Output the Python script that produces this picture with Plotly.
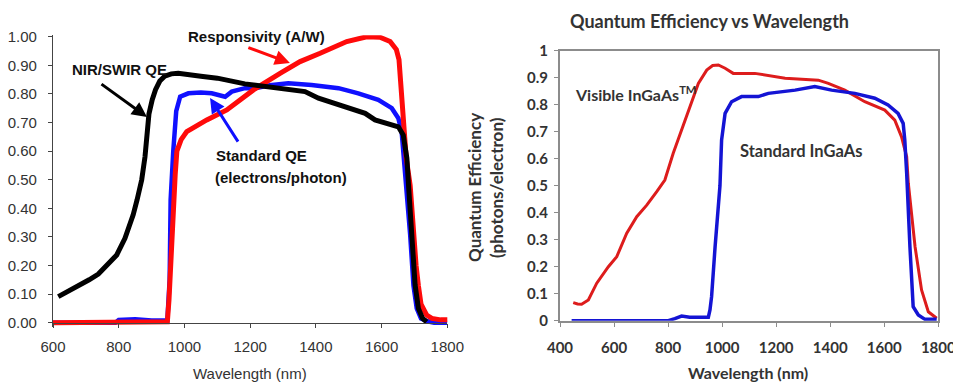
import plotly.graph_objects as go

# ---------------- Left panel data ----------------
nir_x = [616, 640, 677, 710, 738, 763, 794, 819, 844, 856, 870, 880, 886, 892, 902, 912, 925, 940, 960, 981,
         1050, 1100, 1184, 1215, 1286, 1367, 1408, 1450, 1489, 1550, 1580, 1611, 1651, 1666, 1677, 1682, 1692,
         1702, 1712, 1725, 1737]
nir_y = [0.091, 0.105, 0.13, 0.15, 0.17, 0.2, 0.237, 0.295, 0.377, 0.43, 0.5, 0.58, 0.66, 0.73, 0.78, 0.815,
         0.845, 0.862, 0.87, 0.872, 0.862, 0.855, 0.835, 0.831, 0.82, 0.808, 0.785, 0.77, 0.755, 0.732, 0.709,
         0.697, 0.685, 0.656, 0.575, 0.48, 0.307, 0.132, 0.05, 0.015, 0.003]

std_x = [600, 790, 800, 850, 900, 948, 955, 958, 966, 975, 987, 1012, 1050, 1083, 1124, 1144, 1184, 1215,
         1260, 1316, 1387, 1469, 1529, 1590, 1631, 1651, 1661, 1668, 1676, 1687, 1697, 1707, 1720, 1740,
         1760, 1800]
std_y = [0.0, 0.0, 0.01, 0.012, 0.008, 0.008, 0.15, 0.43, 0.6, 0.74, 0.79, 0.802, 0.805, 0.802, 0.79, 0.808,
         0.82, 0.82, 0.83, 0.837, 0.831, 0.82, 0.802, 0.779, 0.75, 0.715, 0.668, 0.58, 0.48, 0.307, 0.13,
         0.05, 0.015, 0.005, 0.0, 0.0]

resp_x = [600, 800, 850, 900, 948, 953, 958, 963, 968, 972, 977, 990, 1007, 1068, 1129, 1210, 1291, 1352,
          1413, 1494, 1555, 1595, 1626, 1645, 1653, 1661, 1669, 1675, 1687, 1697, 1705, 1712, 1720, 1737,
          1753, 1780, 1803]
resp_y = [0.0, 0.0, 0.004, 0.003, 0.003, 0.08, 0.22, 0.35, 0.45, 0.52, 0.6, 0.64, 0.668, 0.709, 0.744, 0.814,
          0.872, 0.913, 0.942, 0.983, 1.0, 0.998, 0.983, 0.955, 0.92, 0.81, 0.69, 0.575, 0.48, 0.307, 0.2,
          0.13, 0.065, 0.027, 0.015, 0.01, 0.01]

left_xticks = [600, 800, 1000, 1200, 1400, 1600, 1800]
left_yticks = [0.0, 0.1, 0.2, 0.3, 0.4, 0.5, 0.6, 0.7, 0.8, 0.9, 1.0]
left_yticktext = ["0.00", "0.10", "0.20", "0.30", "0.40", "0.50", "0.60", "0.70", "0.80", "0.90", "1.00"]

# ---------------- Right panel data ----------------
vis_x = [449, 465, 480, 505, 536, 579, 610, 647, 684, 721, 758, 788, 819, 850, 881, 912, 943, 965, 986,
         1011, 1041, 1085, 1121, 1233, 1356, 1393, 1454, 1528, 1602, 1639, 1664, 1683, 1689, 1714, 1738,
         1763, 1794]
vis_y = [0.067, 0.062, 0.061, 0.077, 0.139, 0.2, 0.237, 0.324, 0.385, 0.428, 0.478, 0.521, 0.62, 0.706,
         0.793, 0.879, 0.928, 0.945, 0.947, 0.935, 0.916, 0.916, 0.916, 0.898, 0.891, 0.879, 0.854, 0.811,
         0.78, 0.743, 0.681, 0.607, 0.509, 0.274, 0.114, 0.033, 0.009]

sin_x = [443, 801, 825, 850, 880, 912, 949, 955, 961, 974, 986, 992, 998, 1011, 1035, 1072, 1134, 1171,
         1270, 1343, 1405, 1491, 1565, 1614, 1651, 1670, 1676, 1683, 1695, 1707, 1726, 1751, 1794]
sin_y = [0.0, 0.0, 0.008, 0.017, 0.013, 0.013, 0.013, 0.04, 0.089, 0.274, 0.422, 0.5, 0.669, 0.768, 0.811,
         0.83, 0.83, 0.842, 0.854, 0.867, 0.854, 0.842, 0.824, 0.799, 0.768, 0.731, 0.669, 0.546, 0.274,
         0.052, 0.021, 0.005, 0.005]

right_xticks = [400, 600, 800, 1000, 1200, 1400, 1600, 1800]
right_yticks = [0, 0.1, 0.2, 0.3, 0.4, 0.5, 0.6, 0.7, 0.8, 0.9, 1.0]
right_yticktext = ["0", "0.1", "0.2", "0.3", "0.4", "0.5", "0.6", "0.7", "0.8", "0.9", "1"]

W, H = 953, 386
ARIAL = "Liberation Sans, Arial, sans-serif"
CAL = "Lato, Open Sans, sans-serif"

fig = go.Figure()
fig.add_trace(go.Scatter(x=std_x, y=std_y, mode="lines", line=dict(color="#1010ff", width=4.5),
                         xaxis="x", yaxis="y", hoverinfo="skip"))
fig.add_trace(go.Scatter(x=resp_x, y=resp_y, mode="lines", line=dict(color="#ff0a0a", width=5),
                         xaxis="x", yaxis="y", hoverinfo="skip"))
fig.add_trace(go.Scatter(x=nir_x, y=nir_y, mode="lines", line=dict(color="#000000", width=5),
                         xaxis="x", yaxis="y", hoverinfo="skip"))

fig.add_trace(go.Scatter(x=vis_x, y=vis_y, mode="lines", line=dict(color="#dd1c1c", width=3),
                         xaxis="x2", yaxis="y2", hoverinfo="skip"))
fig.add_trace(go.Scatter(x=sin_x, y=sin_y, mode="lines", line=dict(color="#1414d4", width=3.5),
                         xaxis="x2", yaxis="y2", hoverinfo="skip"))

# left panel geometry (pixel based)
lx0, lx1 = 53 / W, 447.3 / W
ly_bot, ly_top = 1 - 327.0 / H, 1 - 35.27 / H
ly_zero = 1 - 322.7 / H

axis_common = dict(showgrid=False, zeroline=False, automargin=False, ticklabeloverflow="allow")
fig.update_layout(
    width=W, height=H, margin=dict(l=0, r=0, t=0, b=0, pad=0, autoexpand=False),
    paper_bgcolor="white", plot_bgcolor="white", showlegend=False,
    xaxis=dict(domain=[lx0, lx1], range=[600, 1800], anchor="free", position=ly_zero,
               showline=True, linecolor="#444", linewidth=1.2, ticks="outside", ticklen=4,
               tickcolor="#444", tickvals=left_xticks, ticklabelstandoff=6,
               tickfont=dict(family=ARIAL, size=15, color="#333"), **axis_common),
    xaxis3=dict(domain=[lx0, lx1], range=[600, 1800], anchor="free", position=ly_zero, overlaying="x",
                showline=False, ticks="inside", ticklen=4, tickcolor="#444", tickvals=left_xticks,
                showticklabels=False, **axis_common),
    yaxis=dict(domain=[ly_bot, ly_top], range=[-0.015, 1.005], anchor="x", showline=True,
               linecolor="#444", linewidth=1.2, ticks="outside", ticklen=4, tickcolor="#444",
               tickvals=left_yticks, ticktext=left_yticktext, ticklabelstandoff=8,
               tickfont=dict(family=ARIAL, size=15, color="#333"), **axis_common),
    yaxis3=dict(domain=[ly_bot, ly_top], range=[-0.015, 1.005], anchor="x", overlaying="y",
                showline=False, ticks="inside", ticklen=5, tickcolor="#444", tickvals=left_yticks,
                showticklabels=False, **axis_common),
    xaxis2=dict(domain=[560 / W, 938.3 / W], range=[400, 1800], anchor="y2", showline=True,
                linecolor="#8c8c8c", linewidth=2, mirror=True, ticks="outside", ticklen=4,
                tickcolor="#8c8c8c", tickvals=right_xticks, ticklabelstandoff=8,
                tickfont=dict(family=CAL, size=15, color="#333", weight="bold"), **axis_common),
    yaxis2=dict(domain=[1 - 320.7 / H, 1 - 50.7 / H], range=[0, 1], anchor="x2", showline=True,
                linecolor="#8c8c8c", linewidth=2, mirror=True, ticks="outside", ticklen=4,
                tickcolor="#8c8c8c", tickvals=right_yticks, ticktext=right_yticktext, ticklabelstandoff=3,
                tickfont=dict(family=CAL, size=15, color="#333", weight="bold"), **axis_common),
)

ann = []
# left panel text
ann.append(dict(text="Responsivity (A/W)", x=1219, y=0.999, xref="x", yref="y", showarrow=False,
                xanchor="center", font=dict(family=ARIAL, size=15, color="#111", weight="bold")))
ann.append(dict(text="NIR/SWIR QE", x=801, y=0.884, xref="x", yref="y", showarrow=False,
                xanchor="center", font=dict(family=ARIAL, size=15, color="#111", weight="bold")))
ann.append(dict(text="Standard QE", x=1090, y=0.583, xref="x", yref="y", xanchor="left", showarrow=False,
                font=dict(family=ARIAL, size=15, color="#111", weight="bold")))
ann.append(dict(text="(electrons/photon)", x=1087, y=0.506, xref="x", yref="y", xanchor="left",
                showarrow=False, font=dict(family=ARIAL, size=15, color="#111", weight="bold")))
# arrows (tip x,y ; tail ax,ay)
for tip, tail, col in [((1321, 0.908), (1190, 0.964), "#ff0a0a"),
                       ((886, 0.719), (743, 0.838), "#000000"),
                       ((1078, 0.786), (1166, 0.628), "#1010ff")]:
    ann.append(dict(text="", x=tip[0], y=tip[1], ax=tail[0], ay=tail[1], xref="x", yref="y",
                    axref="x", ayref="y", showarrow=True, arrowhead=2, arrowsize=1, arrowwidth=3,
                    arrowcolor=col, standoff=0))
ann.append(dict(text="Wavelength (nm)", x=250 / W, y=1 - 373 / H, xref="paper", yref="paper",
                xanchor="center", yanchor="middle", showarrow=False,
                font=dict(family=ARIAL, size=15, color="#333")))

# right panel text
ann.append(dict(text="Quantum Efficiency vs Wavelength", x=709.5 / W, y=1 - 21 / H, xref="paper",
                yref="paper", xanchor="center", yanchor="middle", showarrow=False,
                font=dict(family=CAL, size=18, color="#333", weight="bold")))
ann.append(dict(text="Visible InGaAs<sup>TM</sup>", x=449, y=0.842, xref="x2", yref="y2", xanchor="left",
                showarrow=False, font=dict(family=CAL, size=16, color="#333", weight="bold")))
ann.append(dict(text="Standard InGaAs", x=1060, y=0.628, xref="x2", yref="y2", xanchor="left",
                showarrow=False, font=dict(family=CAL, size=16.5, color="#333", weight="bold")))
ann.append(dict(text="Wavelength (nm)", x=747.7 / W, y=1 - 372.7 / H, xref="paper", yref="paper",
                xanchor="center", yanchor="middle", showarrow=False,
                font=dict(family=CAL, size=16, color="#333", weight="bold")))
ann.append(dict(text="Quantum Efficiency", x=475 / W, y=1 - 188 / H, xref="paper", yref="paper",
                xanchor="center", yanchor="middle", textangle=-90, showarrow=False,
                font=dict(family=CAL, size=17, color="#333", weight="bold")))
ann.append(dict(text="(photons/electron)", x=497 / W, y=1 - 188 / H, xref="paper", yref="paper",
                xanchor="center", yanchor="middle", textangle=-90, showarrow=False,
                font=dict(family=CAL, size=17, color="#333", weight="bold")))

fig.update_layout(annotations=ann)
fig.write_html("out.html", config={"displayModeBar": False},
               post_script="document.body.style.margin='0px';document.body.style.overflow='hidden';")
